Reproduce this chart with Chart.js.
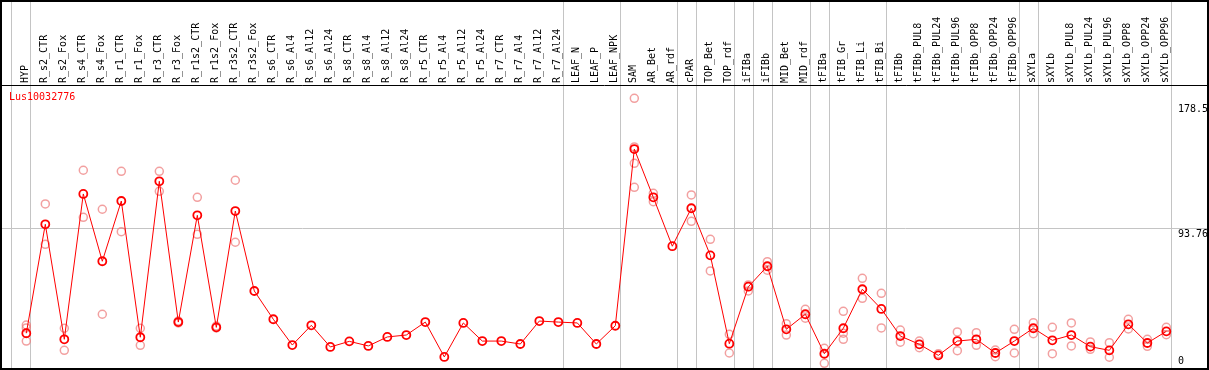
<!DOCTYPE html>
<html>
<head>
<meta charset="utf-8">
<script src="https://cdn.jsdelivr.net/npm/chart.js@4/dist/chart.umd.min.js"></script>
<style>
  html, body { margin: 0; padding: 0; background: #fff; }
  #chart { display: block; }
</style>
</head>
<body>
<canvas id="chart" width="1209" height="370"></canvas>
<script>
"use strict";

const geneName = "Lus10032776";

const categories = [
    "HYP", "R_s2_CTR", "R_s2_Fox", "R_s4_CTR", "R_s4_Fox", "R_r1_CTR", "R_r1_Fox",
    "R_r3_CTR", "R_r3_Fox", "R_r1s2_CTR", "R_r1s2_Fox", "R_r3s2_CTR", "R_r3s2_Fox",
    "R_s6_CTR", "R_s6_Al4", "R_s6_Al12", "R_s6_Al24", "R_s8_CTR", "R_s8_Al4",
    "R_s8_Al12", "R_s8_Al24", "R_r5_CTR", "R_r5_Al4", "R_r5_Al12", "R_r5_Al24",
    "R_r7_CTR", "R_r7_Al4", "R_r7_Al12", "R_r7_Al24", "LEAF_N", "LEAF_P", "LEAF_NPK",
    "SAM", "AR_Bet", "AR_rdf", "cPAR", "TOP_Bet", "TOP_rdf", "iFIBa", "iFIBb",
    "MID_Bet", "MID_rdf", "tFIBa", "tFIB_Gr", "tFIB_Li", "tFIB_Bi", "tFIBb",
    "tFIBb_PUL8", "tFIBb_PUL24", "tFIBb_PUL96", "tFIBb_OPP8", "tFIBb_OPP24", "tFIBb_OPP96",
    "sXYLa", "sXYLb", "sXYLb_PUL8", "sXYLb_PUL24", "sXYLb_PUL96", "sXYLb_OPP8",
    "sXYLb_OPP24", "sXYLb_OPP96"
];

// mean expression per sample
const meanValues = [
    22.5, 96.5, 18.4, 117.1, 71.4, 112.3, 19.8, 125.7, 30.1, 102.6, 26.5, 105.5, 51.2,
    32.0, 14.5, 27.9, 13.2, 17.0, 13.9, 20.0, 21.3, 30.1, 6.4, 29.5, 17.2,
    17.2, 15.2, 30.8, 30.1, 29.5, 15.2, 27.6,
    147.6, 114.8, 81.6, 107.4, 75.4, 15.4, 54.1, 68.0, 25.2, 35.4, 8.6, 25.9, 52.4, 39.0,
    20.6, 15.0, 7.5, 17.2, 18.4, 9.1, 17.2,
    25.9, 17.7, 21.3, 13.4, 10.9, 28.6, 15.9, 23.8
];

// individual replicates (null where none shows)
const repA = [
    28.1, 110.3, 25.9, 133.2, 106.7, 132.5, 25.9, 132.5, 30.8, 114.8, 27.4, 126.4, null,
    null, null, null, null, null, null, null, null, null, null, null, null,
    null, null, null, null, null, null, null,
    182.0, 117.5, null, 116.4, 86.3, 21.8, 55.3, 71.1, 29.0, 38.8, 12.3, 37.4, 59.8, 49.6,
    24.7, 17.2, 8.6, 23.4, 22.9, 11.1, 25.2,
    29.7, 26.5, 29.5, 16.6, 16.1, 32.0, 18.4, 26.5
];
const repB = [
    26.1, 82.9, 10.9, 101.2, 35.4, 91.5, 14.3, 118.9, 29.5, 89.7, 26.1, 84.3, null,
    null, null, null, null, null, null, null, null, null, null, null, null,
    null, null, null, null, null, null, null,
    149.0, 111.8, null, 98.5, 64.8, 9.1, 51.2, 65.3, 21.3, 32.7, 2.1, 22.5, 46.2, 26.1,
    16.4, 12.7, null, 10.7, 14.3, 6.6, 9.1,
    22.2, 8.6, 13.9, 11.6, 6.2, 25.4, 13.6, 21.5
];
const repC = [
    17.2, null, null, null, null, null, null, null, null, null, null, null, null,
    null, null, null, null, null, null, null, null, null, null, null, null,
    null, null, null, null, null, null, null,
    137.9, null, null, null, null, null, null, null, null, null, null, 18.4, null, null,
    null, null, null, null, null, null, null,
    null, null, null, null, null, null, null, null
];
const repD = categories.map((c, i) => (i === 32 ? 121.6 : null));

const yTicks = [0, 93.76, 178.5];

// sample groups end after these indices (separator lines)
const groupEnds = [-1, 0, 28, 31, 34, 35, 37, 38, 39, 41, 42, 45, 52, 53, 60];

const toPoints = (arr) => arr.map((v, i) => ({ x: i, y: v })).filter((p) => p.y !== null);

const FONT = '10px "DejaVu Sans Mono", "Liberation Mono", monospace';
const RED = "#ff0000";
const FAINT = "rgba(236, 120, 120, 0.7)";
const GRID = "#c4c4c4";

const decorPlugin = {
    id: "decor",
    beforeDraw: function (chart) {
        const ctx = chart.ctx;
        ctx.save();
        ctx.fillStyle = "#fff";
        ctx.fillRect(0, 0, chart.width, chart.height);
        ctx.restore();
    },
    beforeDatasetsDraw: function (chart) {
        const ctx = chart.ctx;
        const xs = chart.scales.x;
        const ys = chart.scales.y;
        const area = chart.chartArea;

        ctx.save();
        ctx.strokeStyle = GRID;
        ctx.lineWidth = 1;

        groupEnds.forEach((g) => {
            const px = Math.round(xs.getPixelForValue(g + 0.22)) + 0.5;
            ctx.beginPath();
            ctx.moveTo(px, 0);
            ctx.lineTo(px, area.bottom);
            ctx.stroke();
        });

        yTicks.slice(1, -1).forEach((t) => {
            const py = Math.round(ys.getPixelForValue(t)) + 0.5;
            ctx.beginPath();
            ctx.moveTo(area.left, py);
            ctx.lineTo(area.right, py);
            ctx.stroke();
        });
        ctx.restore();
    },
    afterDraw: function (chart) {
        const ctx = chart.ctx;
        const xs = chart.scales.x;
        const ys = chart.scales.y;
        const area = chart.chartArea;

        ctx.save();
        ctx.font = FONT;

        // sample names, rotated
        ctx.fillStyle = "#000";
        ctx.textAlign = "left";
        ctx.textBaseline = "middle";
        categories.forEach((c, i) => {
            ctx.save();
            ctx.translate(xs.getPixelForValue(i) - 1, area.top - 3);
            ctx.rotate(-Math.PI / 2);
            ctx.fillText(c, 0, 0);
            ctx.restore();
        });

        // value labels on the right
        yTicks.forEach((t, k) => {
            const py = ys.getPixelForValue(t);
            if (k === 0) {
                ctx.textBaseline = "bottom";
                ctx.fillText(String(t), 1178, py);
            } else {
                ctx.textBaseline = "top";
                ctx.fillText(String(t), 1178, py + 1);
            }
        });

        // gene id
        ctx.fillStyle = RED;
        ctx.textBaseline = "middle";
        ctx.fillText(geneName, 9, area.top + 11);

        // frame and header rule
        ctx.strokeStyle = "#000";
        ctx.lineWidth = 2;
        ctx.strokeRect(1, 1, chart.width - 2, chart.height - 2);
        ctx.lineWidth = 1;
        ctx.beginPath();
        ctx.moveTo(0, area.top - 0.5);
        ctx.lineTo(chart.width, area.top - 0.5);
        ctx.stroke();
        ctx.restore();
    }
};

const repStyle = {
    showLine: false,
    borderColor: FAINT,
    backgroundColor: "rgba(0,0,0,0)",
    pointRadius: 4,
    pointBorderWidth: 1.5,
    pointHoverRadius: 4,
    order: 2
};

new Chart(document.getElementById("chart").getContext("2d"), {
    type: "line",
    data: {
        datasets: [
            {
                data: toPoints(meanValues),
                borderColor: RED,
                borderWidth: 1,
                backgroundColor: "rgba(0,0,0,0)",
                pointBorderColor: RED,
                pointRadius: 4,
                pointBorderWidth: 1.8,
                tension: 0,
                order: 0
            },
            Object.assign({ data: toPoints(repA) }, repStyle),
            Object.assign({ data: toPoints(repB) }, repStyle),
            Object.assign({ data: toPoints(repC) }, repStyle),
            Object.assign({ data: toPoints(repD) }, repStyle)
        ]
    },
    options: {
        responsive: false,
        animation: false,
        clip: false,
        layout: { autoPadding: false, padding: { left: 1, right: 2, top: 86, bottom: 1 } },
        plugins: {
            legend: { display: false },
            tooltip: { enabled: false }
        },
        scales: {
            x: { type: "linear", display: false, min: -1.332, max: 62.14 },
            y: { type: "linear", display: false, min: -1.77, max: 190.4 }
        }
    },
    plugins: [decorPlugin]
});
</script>
</body>
</html>
